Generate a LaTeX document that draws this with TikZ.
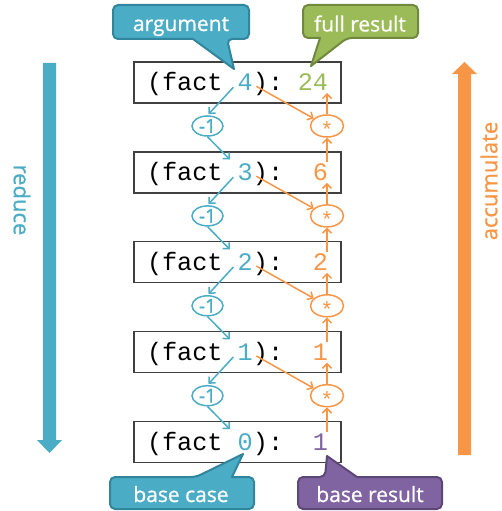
\documentclass[tikz,border=0pt]{standalone}
\usepackage{fontspec}
\setmainfont{Open Sans}
\newfontfamily\monofont{Liberation Mono}
\newfontfamily\calloutfont[FakeBold=0.8]{Open Sans}
\newfontfamily\opfont[FakeBold=1.5]{Open Sans}
\usetikzlibrary{arrows.meta,shapes.geometric,calc}
\definecolor{cblue}{HTML}{4BACC6}
\definecolor{cblued}{HTML}{31859C}
\definecolor{cgreen}{HTML}{9BBB59}
\definecolor{cgreend}{HTML}{71893F}
\definecolor{corange}{HTML}{F79646}
\definecolor{cpurple}{HTML}{8064A2}
\definecolor{cpurpled}{HTML}{5C4776}
\definecolor{cbox}{HTML}{404040}
\begin{document}
\begin{tikzpicture}[x=1pt,y=-1pt,
  factbox/.style={draw=cbox,line width=1.3pt,minimum width=207pt,minimum height=41pt,inner sep=0pt},
  code/.style={font=\monofont\fontsize{25.2}{30}\selectfont,inner sep=0pt,text height=16pt,text depth=0pt},
  minus/.style={ellipse,draw=cblue,line width=1.5pt,minimum width=31pt,minimum height=20pt,inner sep=0pt,text=cblue,font=\opfont\fontsize{19}{22}\selectfont},
  mul/.style={ellipse,draw=corange,line width=1.5pt,minimum width=33pt,minimum height=22pt,inner sep=0pt},
  multxt/.style={text=corange,font=\monofont\fontsize{22}{24}\selectfont,inner sep=0pt,text height=23pt,text depth=0pt},
  barrow/.style={draw=cblue,line width=1.5pt,-{Straight Barb[length=4.5pt,width=9pt]}},
  oarrow/.style={draw=corange,line width=1.5pt,-{Straight Barb[length=4.5pt,width=9pt]}},
  calltxt/.style={text=white,font=\calloutfont\fontsize{21}{25}\selectfont,inner sep=0pt,anchor=base},
  bluecall/.style={fill=cblue,draw=cblued,line width=2pt,line join=round},
  greencall/.style={fill=cgreen,draw=cgreend,line width=2pt,line join=round},
  purplecall/.style={fill=cpurple,draw=cpurpled,line width=2pt,line join=round},
  sidelabel/.style={font=\calloutfont\fontsize{22}{26}\selectfont,inner sep=0pt}
]
\useasboundingbox (0,0) rectangle (502,511);

% big side arrows
\fill[cblue] (43,63) -- (56,63) -- (56,440) -- (62,440) -- (49.5,453) -- (37,440) -- (43,440) -- cycle;
\fill[corange] (458,455) -- (471,455) -- (471,74) -- (477,74) -- (464.5,62) -- (452,74) -- (458,74) -- cycle;
\node[sidelabel,text=cblue,rotate=-90] (red) at (22,200) {reduce};
\node[sidelabel,text=corange,rotate=90] (acc) at (489,181) {accumulate};

% rows
\foreach \k/\a/\v/\vc in {0/4/24/cgreen,1/3/6/corange,2/2/2/corange,3/1/1/corange,4/0/1/cpurple}{
  \pgfmathsetmacro\rc{82.5+89.9*\k}
  \pgfmathsetmacro\bl{\rc+8.3}
  \node[factbox] (b\k) at (237.5,\rc) {};
  \node[code,anchor=base west] (p\k) at (146.8,\bl) {(fact};
  \node[code,anchor=base,text=cblue] (a\k) at (245.1,\bl) {\a};
  \node[code,anchor=base west] (c\k) at (252.7,\bl) {):};
  \node[code,anchor=base east,text=\vc] (v\k) at (328.2,\bl) {\v};
}

% operators
\foreach \k in {0,1,2,3}{
  \pgfmathsetmacro\ec{82.5+89.9*\k+43.5}
  \node[minus] (m\k) at (207.5,\ec) {-1};
  \node[mul] (s\k) at (327,\ec) {};
  \node[multxt] (t\k) at (s\k) {*};
}

% connectors
\foreach \k/\n in {0/1,1/2,2/3,3/4}{
  \draw[barrow,shorten >=1.5pt] ($(a\k.west)+(-4,4.5)$) -- (m\k.north);
  \draw[barrow] (m\k.south) -- ($(a\n.north west)+(-7.5,-5)$);
  \draw[oarrow] ($(a\k.east)+(3.5,3.5)$) -- (s\k);
  \draw[oarrow,shorten >=2pt] (s\k.north) -- (s\k.north |- v\k.south);
  \draw[oarrow,shorten <=2.5pt] (s\k.south |- v\n.north) -- (s\k.south);
}

% callouts
\draw[bluecall] (249,22) [rounded corners=5pt] -- (249,39) -- (227,39) [sharp corners] -- (234,69) -- (193,39) [rounded corners=5pt] -- (113,39) -- (113,5) -- (249,5) -- cycle;
\node[calltxt] (targ) at (181,31) {argument};

\draw[greencall] (418,21) [rounded corners=5pt] -- (418,38) -- (347,38) [sharp corners] -- (311,66) -- (320,38) [rounded corners=5pt] -- (303,38) -- (303,5) -- (418,5) -- cycle;
\node[calltxt] (tfull) at (360,31.5) {full result};

\draw[bluecall] (110,493) [rounded corners=5pt] -- (110,477) -- (196,477) [sharp corners] -- (243,454) -- (232,477) [rounded corners=5pt] -- (254,477) -- (254,509) -- (110,509) -- cycle;
\node[calltxt] (tbase) at (181,502) {base case};

\draw[purplecall] (298,493) [rounded corners=5pt] -- (298,477) -- (325,477) [sharp corners] -- (327,456) -- (357,477) [rounded corners=5pt] -- (442,477) -- (442,509) -- (298,509) -- cycle;
\node[calltxt] (tbres) at (370,502) {base result};
\end{tikzpicture}
\end{document}
